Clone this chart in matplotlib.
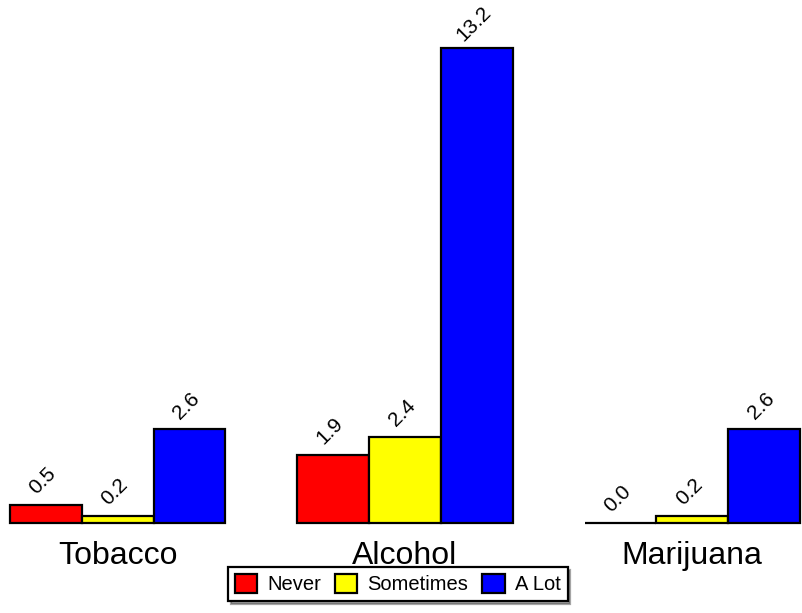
import matplotlib
matplotlib.use('Agg')
import matplotlib.pyplot as plt
import numpy as np

categories = ["Tobacco", "Alcohol", "Marijuana"]
series = ["Never", "Sometimes", "A Lot"]
values = {
    "Never": [0.5, 1.9, 0.0],
    "Sometimes": [0.2, 2.4, 0.2],
    "A Lot": [2.6, 13.2, 2.6],
}
colors = ["#ff0000", "#ffff00", "#0000ff"]

plt.rcParams['font.family'] = ['Liberation Sans', 'DejaVu Sans']

fig = plt.figure(figsize=(8.02, 6.13), dpi=100)
ax = fig.add_axes([10 / 802, 90 / 613, 790 / 802, 475 / 613])

x = np.arange(len(categories))
width = 0.25
for i, name in enumerate(series):
    pos = x + (i - 1) * width
    ax.bar(pos, values[name], width, color=colors[i], edgecolor='black',
           linewidth=1.6, label=name, clip_on=False)
    for px, v in zip(pos, values[name]):
        ax.annotate(f"{v:.1f}", (px, v), xytext=(-3, 24), textcoords='offset pixels',
                    rotation=45, ha='center', va='center', fontsize=15,
                    annotation_clip=False)

ax.set_xlim(-0.375, 2.375)
ax.set_ylim(0, 13.2)
ax.set_yticks([])
ax.set_xticks(x)
ax.set_xticklabels(categories, fontsize=23)
ax.tick_params(axis='x', length=0, pad=13)
for s in ax.spines.values():
    s.set_visible(False)

leg = fig.legend(loc='center', bbox_to_anchor=(0.496, 0.047), ncol=3, fontsize=14.5,
                 fancybox=False, shadow=True, edgecolor='black', framealpha=1,
                 handlelength=1.1, handleheight=1.1, handletextpad=0.5,
                 columnspacing=0.7, borderpad=0.35)
leg.get_frame().set_linewidth(1.6)

fig.savefig("out.png", dpi=100)
